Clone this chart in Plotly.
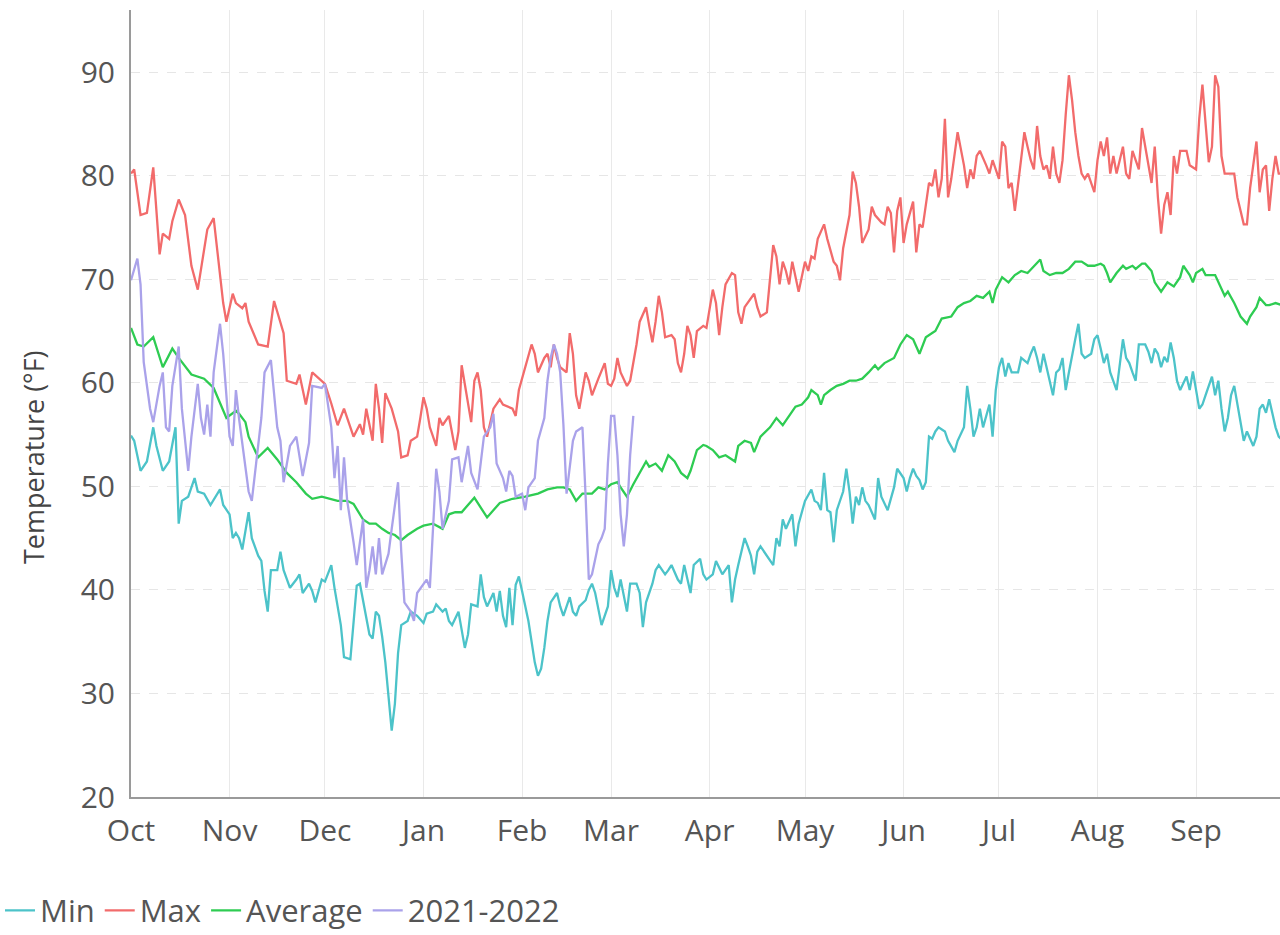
import datetime as dt
import plotly.graph_objects as go

BASE = dt.date(2021, 10, 1)

MONTH_LABELS = ["Oct", "Nov", "Dec", "Jan", "Feb", "Mar", "Apr", "May", "Jun", "Jul", "Aug", "Sep"]
MONTH_STARTS = ["2021-10-01", "2021-11-01", "2021-12-01", "2022-01-01", "2022-02-01", "2022-03-01",
                "2022-04-01", "2022-05-01", "2022-06-01", "2022-07-01", "2022-08-01", "2022-09-01"]
Y_TICKS = [20, 30, 40, 50, 60, 70, 80, 90]

# day offsets from Oct 1 and readings (deg F)
MAX_DAYS = [0, 1, 3, 5, 7, 9, 10, 12, 13, 15,
            17, 19, 21, 24, 26, 29, 30, 32, 33, 35,
            36, 37, 40, 43, 45, 48, 49, 52, 53, 55,
            57, 59, 61, 63, 65, 67, 70, 72, 73, 74,
            76, 77, 78, 79, 80, 82, 84, 85, 87, 88,
            90, 91, 92, 93, 94, 96, 97, 98, 100, 102,
            103, 104, 106, 107, 108, 109, 110, 111, 112, 114,
            116, 117, 120, 121, 122, 124, 126, 127, 128, 130,
            131, 132, 133, 134, 135, 137, 138, 139, 140, 141,
            142, 143, 144, 145, 147, 149, 150, 151, 152, 153,
            154, 156, 157, 159, 160, 162, 163, 164, 165, 166,
            167, 168, 170, 171, 172, 173, 174, 175, 176, 177,
            178, 180, 181, 183, 184, 185, 186, 187, 189, 190,
            191, 192, 193, 194, 196, 197, 198, 200, 201, 202,
            203, 204, 205, 206, 207, 208, 210, 211, 212, 213,
            214, 215, 216, 218, 219, 221, 222, 223, 224, 226,
            227, 228, 229, 230, 232, 233, 234, 236, 237, 238,
            239, 240, 241, 242, 243, 244, 246, 247, 248, 249,
            250, 251, 252, 253, 254, 255, 256, 257, 258, 259,
            260, 262, 263, 264, 265, 266, 267, 269, 270, 271,
            272, 273, 274, 275, 276, 277, 278, 280, 281, 282,
            283, 284, 285, 286, 287, 288, 289, 290, 291, 292,
            293, 294, 295, 296, 297, 298, 299, 300, 301, 303,
            304, 305, 306, 307, 308, 309, 310, 312, 313, 314,
            315, 316, 317, 318, 319, 321, 322, 323, 324, 325,
            326, 327, 328, 329, 330, 332, 333, 335, 336, 337,
            338, 339, 340, 341, 342, 343, 344, 346, 347, 348,
            350, 351, 352, 354, 355, 356, 357, 358, 359, 360,
            361, 362]
MAX_VALS = [80.2, 80.6, 76.2, 76.4, 80.8, 72.4, 74.4, 73.9, 75.6, 77.7,
            76.2, 71.3, 69.0, 74.8, 75.9, 67.7, 65.9, 68.6, 67.7, 67.2,
            67.7, 65.9, 63.7, 63.5, 67.9, 64.8, 60.2, 59.9, 60.8, 57.9,
            61.0, 60.4, 59.9, 58.0, 55.9, 57.5, 54.8, 56.0, 55.0, 57.5,
            54.4, 59.9, 57.5, 54.2, 59.0, 57.5, 55.3, 52.8, 53.0, 54.4,
            54.8, 56.6, 58.6, 57.5, 55.7, 53.9, 56.6, 55.9, 56.8, 53.5,
            55.3, 61.7, 58.2, 56.2, 60.2, 61.0, 59.3, 55.7, 54.8, 57.5,
            58.4, 57.9, 57.5, 56.8, 59.3, 61.5, 63.7, 62.8, 61.0, 62.4,
            62.8, 61.5, 63.7, 62.4, 61.5, 61.0, 64.8, 62.8, 58.8, 57.5,
            59.3, 61.0, 60.2, 58.8, 60.4, 61.9, 59.9, 59.7, 60.4, 62.4,
            61.0, 59.7, 60.2, 63.7, 65.9, 67.3, 65.5, 63.9, 65.9, 68.4,
            66.8, 64.4, 64.6, 64.2, 61.9, 61.0, 62.8, 65.5, 64.6, 62.4,
            65.0, 65.5, 65.3, 69.0, 67.7, 64.6, 67.3, 69.5, 70.6, 70.4,
            66.8, 65.7, 67.3, 67.7, 68.6, 67.3, 66.4, 66.8, 70.4, 73.3,
            72.2, 69.5, 71.7, 70.8, 69.5, 71.7, 68.8, 70.4, 71.7, 70.8,
            72.2, 72.0, 73.9, 75.3, 73.9, 71.7, 71.3, 69.9, 73.0, 76.2,
            80.4, 79.3, 77.0, 73.5, 74.8, 77.0, 76.2, 75.5, 75.3, 77.0,
            76.4, 72.6, 76.6, 77.9, 73.5, 75.3, 77.5, 72.6, 75.3, 75.0,
            77.0, 79.3, 79.0, 80.6, 77.9, 79.7, 85.5, 77.9, 79.7, 81.9,
            84.2, 81.0, 78.8, 80.6, 79.7, 81.9, 82.4, 81.0, 80.2, 81.5,
            80.6, 79.7, 83.3, 82.8, 78.8, 79.3, 76.6, 81.5, 84.2, 82.8,
            81.5, 80.6, 84.8, 81.9, 80.6, 81.0, 79.7, 82.8, 80.2, 79.3,
            81.5, 85.9, 89.7, 87.3, 84.2, 81.9, 80.2, 79.7, 80.2, 78.4,
            81.5, 83.3, 81.9, 83.7, 80.2, 81.9, 80.2, 82.8, 80.2, 79.7,
            82.4, 81.5, 80.6, 84.6, 82.8, 79.3, 82.8, 77.9, 74.4, 77.2,
            78.4, 76.2, 81.9, 80.2, 82.4, 82.4, 81.0, 80.6, 85.5, 88.8,
            85.0, 81.3, 82.8, 89.7, 88.6, 81.9, 80.2, 80.2, 80.2, 77.9,
            75.3, 75.3, 78.8, 83.3, 78.4, 80.6, 81.0, 76.6, 79.7, 81.9,
            80.2, 80.2]

MIN_DAYS = [0, 1, 3, 5, 7, 8, 10, 12, 14, 15,
            16, 18, 20, 21, 23, 25, 28, 29, 31, 32,
            33, 34, 35, 36, 37, 38, 40, 41, 42, 43,
            44, 46, 47, 48, 50, 52, 53, 54, 56, 57,
            58, 60, 61, 63, 64, 66, 67, 69, 70, 71,
            72, 74, 75, 76, 77, 78, 79, 80, 81, 82,
            83, 84, 85, 87, 88, 90, 92, 93, 95, 96,
            98, 99, 100, 101, 103, 104, 105, 106, 107, 108,
            109, 110, 111, 112, 114, 115, 116, 117, 118, 119,
            120, 121, 122, 123, 124, 125, 126, 127, 128, 129,
            130, 131, 132, 134, 135, 136, 138, 139, 140, 141,
            143, 144, 145, 146, 148, 149, 150, 151, 152, 153,
            154, 156, 157, 159, 160, 161, 162, 164, 165, 166,
            168, 169, 170, 172, 173, 174, 175, 176, 177, 179,
            180, 181, 183, 184, 186, 187, 188, 189, 190, 191,
            193, 194, 195, 196, 197, 198, 200, 202, 203, 204,
            205, 206, 208, 209, 210, 212, 214, 215, 216, 217,
            218, 219, 220, 221, 222, 224, 225, 226, 227, 228,
            229, 230, 231, 232, 234, 235, 236, 238, 240, 241,
            243, 244, 245, 246, 247, 248, 249, 250, 251, 252,
            253, 254, 256, 257, 259, 260, 262, 263, 264, 265,
            266, 267, 268, 270, 271, 272, 273, 274, 275, 276,
            277, 279, 280, 282, 283, 284, 285, 286, 287, 288,
            290, 291, 292, 293, 294, 295, 296, 297, 298, 299,
            300, 302, 303, 304, 305, 306, 307, 308, 310, 311,
            312, 313, 314, 315, 316, 317, 319, 320, 321, 322,
            323, 324, 325, 326, 327, 328, 329, 330, 332, 333,
            334, 336, 337, 338, 340, 341, 342, 343, 344, 345,
            346, 347, 348, 349, 350, 351, 353, 354, 355, 356,
            357, 358, 359, 360, 361, 362]
MIN_VALS = [54.9, 54.4, 51.5, 52.4, 55.7, 53.9, 51.5, 52.4, 55.7, 46.4,
            48.6, 49.0, 50.8, 49.5, 49.3, 48.2, 49.7, 48.2, 47.3, 45.0,
            45.5, 45.0, 43.9, 45.9, 47.5, 45.0, 43.3, 42.8, 39.9, 37.9,
            41.9, 41.9, 43.7, 41.9, 40.2, 41.0, 41.5, 39.7, 40.6, 39.9,
            38.8, 41.0, 40.8, 42.4, 40.2, 36.6, 33.5, 33.3, 36.5, 40.4,
            40.6, 37.5, 35.7, 35.3, 37.9, 37.5, 35.5, 33.0, 29.5, 26.4,
            29.0, 33.9, 36.6, 37.0, 37.9, 37.5, 36.8, 37.7, 37.9, 38.6,
            37.9, 38.2, 37.0, 36.6, 37.9, 36.2, 34.4, 35.7, 38.6, 38.5,
            38.4, 41.5, 39.3, 38.4, 39.7, 37.9, 39.9, 37.5, 36.4, 40.2,
            36.6, 40.5, 41.3, 39.9, 38.5, 37.0, 35.0, 33.0, 31.7, 32.4,
            34.4, 37.0, 38.8, 39.7, 38.4, 37.5, 39.3, 37.9, 37.5, 38.4,
            39.0, 40.0, 40.6, 39.7, 36.6, 37.5, 38.4, 41.9, 40.2, 39.3,
            41.0, 37.9, 40.6, 40.6, 39.7, 36.4, 38.8, 40.6, 41.9, 42.4,
            41.5, 41.9, 42.4, 41.0, 40.6, 42.4, 41.0, 39.7, 42.4, 43.0,
            41.5, 41.0, 41.5, 42.8, 41.5, 41.9, 42.4, 38.8, 41.0, 42.4,
            45.0, 44.2, 43.3, 41.5, 43.7, 44.2, 43.3, 42.4, 45.0, 44.2,
            46.8, 45.9, 47.3, 44.2, 46.4, 48.6, 49.7, 48.6, 48.4, 47.7,
            51.3, 47.7, 47.5, 44.6, 47.7, 49.5, 51.7, 49.5, 46.4, 49.0,
            48.2, 49.9, 48.6, 48.2, 46.8, 50.8, 49.0, 47.7, 49.9, 51.7,
            50.8, 49.5, 50.8, 51.7, 51.0, 50.6, 49.7, 50.4, 54.8, 54.6,
            55.3, 55.7, 55.3, 54.4, 53.3, 54.4, 55.7, 59.7, 57.5, 54.8,
            55.7, 57.5, 55.7, 57.9, 54.8, 59.3, 61.5, 62.4, 60.6, 61.9,
            61.0, 61.0, 62.4, 61.9, 62.8, 63.5, 62.4, 61.0, 62.8, 61.5,
            58.8, 61.0, 61.3, 62.4, 59.3, 61.0, 62.8, 64.2, 65.7, 62.8,
            62.4, 62.8, 64.2, 64.6, 63.3, 61.9, 62.8, 61.0, 59.3, 61.9,
            64.2, 62.4, 61.9, 61.0, 60.2, 63.7, 63.7, 63.0, 61.9, 63.3,
            62.8, 61.5, 62.5, 62.0, 63.9, 62.4, 60.2, 59.3, 60.6, 59.3,
            61.1, 57.5, 57.9, 58.8, 60.6, 58.8, 60.2, 57.5, 55.3, 56.6,
            58.8, 59.7, 57.9, 56.2, 54.4, 55.3, 53.9, 54.8, 57.5, 57.9,
            57.1, 58.4, 57.1, 55.7, 54.8, 54.5]

AVG_DAYS = [0, 2, 4, 7, 10, 13, 15, 19, 23, 26,
            30, 33, 34, 36, 37, 40, 43, 46, 49, 52,
            55, 57, 60, 65, 68, 70, 73, 75, 77, 79,
            81, 83, 85, 87, 90, 92, 95, 98, 100, 102,
            104, 106, 108, 112, 114, 116, 120, 124, 128, 131,
            134, 136, 138, 140, 142, 145, 147, 149, 151, 153,
            154, 156, 158, 160, 162, 163, 165, 167, 169, 171,
            173, 175, 176, 178, 180, 181, 183, 185, 187, 190,
            191, 193, 195, 196, 198, 201, 203, 205, 207, 209,
            211, 213, 214, 216, 217, 218, 220, 222, 224, 226,
            228, 230, 232, 234, 235, 237, 240, 242, 244, 246,
            248, 250, 252, 253, 255, 258, 260, 262, 264, 266,
            268, 270, 271, 272, 274, 276, 278, 280, 282, 284,
            286, 287, 289, 291, 293, 295, 297, 299, 301, 303,
            305, 306, 307, 308, 310, 312, 313, 315, 316, 318,
            319, 321, 322, 324, 326, 328, 330, 331, 333, 334,
            335, 337, 338, 341, 342, 344, 345, 347, 349, 351,
            352, 354, 355, 357, 358, 360, 362]
AVG_VALS = [65.3, 63.7, 63.5, 64.4, 61.5, 63.3, 62.4, 60.8, 60.4, 59.5,
            56.6, 57.3, 57.0, 56.2, 54.8, 52.8, 53.7, 52.6, 51.3, 50.4,
            49.3, 48.8, 49.0, 48.6, 48.6, 48.3, 46.8, 46.4, 46.4, 45.9,
            45.5, 45.3, 44.8, 45.3, 45.9, 46.2, 46.4, 45.9, 47.3, 47.5,
            47.5, 48.2, 48.9, 47.0, 47.7, 48.4, 48.8, 49.0, 49.3, 49.7,
            49.9, 49.9, 49.7, 48.6, 49.3, 49.3, 49.9, 49.7, 50.2, 50.4,
            49.9, 49.0, 50.2, 51.3, 52.4, 51.9, 52.2, 51.5, 53.0, 52.4,
            51.3, 50.8, 51.5, 53.5, 54.0, 53.9, 53.5, 52.8, 53.0, 52.4,
            53.9, 54.4, 54.2, 53.3, 54.8, 55.7, 56.6, 55.9, 56.8, 57.7,
            57.9, 58.6, 59.3, 58.8, 57.9, 58.8, 59.3, 59.7, 59.9, 60.2,
            60.2, 60.4, 61.0, 61.7, 61.3, 61.9, 62.4, 63.7, 64.6, 64.2,
            62.8, 64.4, 64.8, 65.0, 66.2, 66.4, 67.3, 67.7, 67.9, 68.4,
            68.2, 68.8, 67.7, 69.0, 70.2, 69.7, 70.4, 70.8, 70.6, 71.3,
            71.9, 70.8, 70.4, 70.6, 70.6, 71.0, 71.7, 71.7, 71.3, 71.3,
            71.5, 71.3, 70.6, 69.7, 70.6, 71.3, 71.0, 71.3, 71.0, 71.5,
            71.5, 70.8, 69.7, 68.8, 69.7, 69.3, 70.2, 71.3, 70.4, 69.7,
            70.6, 71.0, 70.4, 70.4, 69.7, 68.4, 68.8, 67.7, 66.4, 65.7,
            66.4, 67.3, 68.2, 67.5, 67.5, 67.7, 67.5]

CUR_DAYS = [0, 2, 3, 4, 6, 7, 9, 10, 11, 12,
            13, 15, 16, 18, 19, 21, 22, 23, 24, 25,
            26, 28, 29, 31, 32, 33, 34, 35, 36, 37,
            38, 41, 42, 44, 46, 47, 48, 50, 52, 54,
            56, 57, 60, 61, 63, 64, 65, 66, 67, 68,
            70, 71, 73, 74, 75, 76, 77, 78, 79, 81,
            82, 84, 85, 86, 88, 89, 90, 92, 93, 94,
            96, 97, 98, 100, 101, 103, 104, 106, 107, 109,
            110, 111, 113, 114, 115, 117, 118, 119, 120, 121,
            123, 124, 125, 127, 128, 130, 131, 132, 133, 134,
            135, 136, 137, 139, 140, 142, 143, 144, 145, 146,
            147, 148, 149, 150, 151, 152, 153, 154, 155, 156,
            157, 158]
CUR_VALS = [69.9, 72.0, 69.5, 62.0, 57.5, 56.2, 59.7, 61.0, 55.7, 55.3,
            59.7, 63.5, 57.5, 51.5, 54.8, 59.9, 56.6, 55.0, 57.9, 54.8,
            61.0, 65.7, 62.8, 54.8, 53.9, 59.3, 56.5, 54.0, 52.0, 49.5,
            48.6, 56.6, 61.0, 62.2, 55.7, 54.4, 50.4, 53.9, 54.8, 51.0,
            54.2, 59.7, 59.5, 59.9, 55.7, 50.8, 53.9, 47.7, 52.8, 48.6,
            44.6, 42.4, 46.8, 40.2, 41.9, 44.2, 41.5, 45.0, 41.5, 43.5,
            45.9, 50.4, 43.7, 38.8, 37.9, 37.0, 39.7, 40.6, 41.0, 40.2,
            51.7, 49.5, 45.9, 48.6, 52.6, 52.8, 50.4, 53.9, 51.3, 49.7,
            52.2, 54.8, 55.7, 57.0, 52.2, 50.8, 49.5, 51.5, 51.0, 49.0,
            49.3, 47.7, 49.9, 50.8, 54.4, 56.6, 60.2, 62.4, 63.7, 62.8,
            61.0, 56.0, 49.3, 54.4, 55.3, 55.7, 49.0, 41.0, 41.5, 43.0,
            44.4, 45.0, 45.9, 52.2, 56.8, 56.8, 53.0, 47.3, 44.2, 47.3,
            53.0, 56.8]

SERIES = [
    ("Min", MIN_DAYS, MIN_VALS, "#4cc3c9"),
    ("Max", MAX_DAYS, MAX_VALS, "#f26b6b"),
    ("Average", AVG_DAYS, AVG_VALS, "#2ecc52"),
    ("2021-2022", CUR_DAYS, CUR_VALS, "#aaa2ea"),
]

FONT = "Open Sans"
TXT = "#555555"

fig = go.Figure()
for name, days, vals, color in SERIES:
    assert len(days) == len(vals), name
    fig.add_trace(go.Scatter(
        x=[BASE + dt.timedelta(days=d) for d in days], y=vals,
        mode="lines", name=name,
        line=dict(color=color, width=2.3),
    ))

fig.update_layout(
    width=1280, height=935,
    margin=dict(l=131, r=0, t=10, b=138, autoexpand=False),
    paper_bgcolor="white", plot_bgcolor="white",
    font=dict(family=FONT, size=30, color=TXT),
    showlegend=True,
    legend=dict(orientation="h", xref="container", yref="container",
                x=-0.009, xanchor="left", y=0.026, yanchor="middle",
                font=dict(family=FONT, size=31, color=TXT), bgcolor="rgba(0,0,0,0)",
                itemclick=False),
    annotations=[dict(text="Temperature (°F)", textangle=-90, xref="paper", yref="paper",
                      x=-0.0853, y=0.432, xanchor="center", yanchor="middle", showarrow=False,
                      font=dict(family=FONT, size=27, color="#444444"))],
)
fig.update_xaxes(
    type="date", range=["2021-10-01", "2022-09-27 09:36"],
    tickvals=MONTH_STARTS, ticktext=MONTH_LABELS,
    showgrid=True, gridcolor="#e9e9e9", gridwidth=1,
    showline=True, linecolor="#9a9a9a", linewidth=2,
    ticks="", ticklabelstandoff=6, zeroline=False, automargin=False,
    tickfont=dict(family=FONT, size=30, color=TXT),
)
fig.update_yaxes(
    range=[20, 96], tickvals=Y_TICKS, ticktext=[str(v) for v in Y_TICKS],
    showgrid=True, gridcolor="#e6e6e6", gridwidth=1, griddash="dash",
    showline=True, linecolor="#9a9a9a", linewidth=2,
    ticks="", ticklabelstandoff=8, zeroline=False, automargin=False,
    tickfont=dict(family=FONT, size=30, color=TXT),
)

fig.write_html("out.html", config={"displayModeBar": False},
               post_script="document.body.style.margin='0';document.body.style.overflow='hidden';")
